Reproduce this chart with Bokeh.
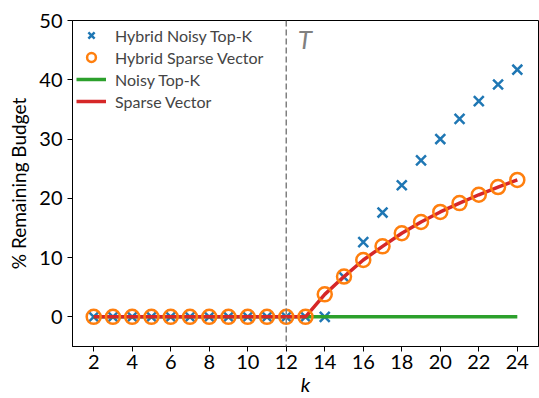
from bokeh.plotting import figure
from bokeh.models import Range1d, FixedTicker, Span, Legend, LegendItem, Label
from bokeh.embed import file_html
from bokeh.resources import INLINE

k = list(range(2, 25))
hybrid_topk = [0]*13 + [6.7, 12.6, 17.6, 22.2, 26.4, 30.0, 33.4, 36.4, 39.2, 41.7]
hybrid_sv = [0]*12 + [3.8, 6.8, 9.6, 11.9, 14.1, 16.0, 17.7, 19.2, 20.6, 21.9, 23.1]
noisy_topk = [0]*23
sparse_vector = [0]*12 + [3.8, 6.8, 9.6, 11.9, 14.1, 16.0, 17.7, 19.2, 20.6, 21.9, 23.1]
x_ticks = list(range(2, 25, 2))
y_ticks = [0, 10, 20, 30, 40, 50]
threshold_k = 12

FONT = "Lato"

p = figure(width=539, height=398, output_backend="svg", toolbar_location=None,
           x_range=Range1d(0.9, 25.1), y_range=Range1d(-5, 50),
           min_border_left=72, min_border_right=1, min_border_top=20, min_border_bottom=40)
p.grid.visible = False
p.outline_line_color = "black"
p.outline_line_width = 1

for ax in (p.xaxis[0], p.yaxis[0]):
    ax.minor_tick_line_color = None
    ax.major_tick_out = 5
    ax.major_tick_in = 0
    ax.major_label_text_font = FONT
    ax.major_label_text_font_size = "20px"
    ax.major_label_text_color = "black"
    ax.axis_label_text_font = FONT
    ax.axis_label_text_font_style = "normal"
    ax.axis_label_text_color = "black"
p.xaxis.ticker = FixedTicker(ticks=x_ticks)
p.yaxis.ticker = FixedTicker(ticks=y_ticks)
p.xaxis.major_label_standoff = 3
p.xaxis.axis_label = "k"
p.xaxis.axis_label_text_font_style = "italic"
p.xaxis.axis_label_text_font_size = "20px"
p.xaxis.axis_label_standoff = 0
p.yaxis.axis_label = "% Remaining Budget"
p.yaxis.axis_label_text_font_size = "19px"
p.yaxis.axis_label_standoff = 6

p.add_layout(Span(location=threshold_k, dimension="height", line_color="gray",
                  line_dash="6 3", line_width=1.5))
p.add_layout(Label(x=threshold_k + 0.6, y=44.2, text="T", text_font=FONT,
                   text_font_style="italic", text_font_size="26px", text_color="gray"))

g = p.line(k, noisy_topk, line_color="#2ca02c", line_width=3.5)
r = p.line(k, sparse_vector, line_color="#d62728", line_width=3.5)
b = p.scatter(k, hybrid_topk, marker="x", size=14, line_color="#1f77b4", line_width=2.5)
o = p.scatter(k, hybrid_sv, marker="circle", size=14, fill_color=None,
              line_color="#ff7f0e", line_width=2.5)
p.renderers.remove(b)
p.renderers.insert(0, b)

legend = Legend(items=[
    LegendItem(label="Hybrid Noisy Top-K", renderers=[b]),
    LegendItem(label="Hybrid Sparse Vector", renderers=[o]),
    LegendItem(label="Noisy Top-K", renderers=[g]),
    LegendItem(label="Sparse Vector", renderers=[r]),
], location="top_left")
legend.label_text_font = FONT
legend.label_text_font_size = "16px"
legend.border_line_color = None
legend.background_fill_alpha = 0.8
legend.spacing = 0
legend.label_height = 22
legend.glyph_height = 22
legend.glyph_width = 30
legend.label_standoff = 9
legend.padding = 3
legend.margin = 4
p.add_layout(legend)

open("out.html", "w").write(file_html(p, INLINE))
